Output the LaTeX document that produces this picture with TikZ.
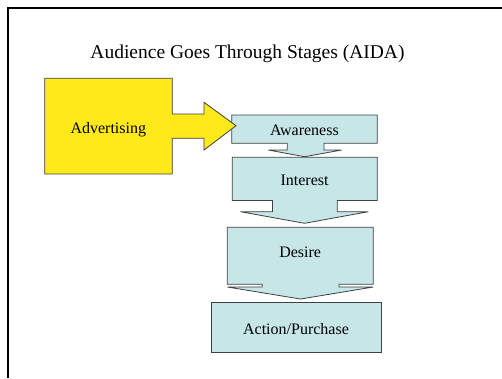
\documentclass[tikz,border=0pt]{standalone}
\usepackage{fontspec}
\setmainfont{Liberation Serif}
\begin{document}
\begin{tikzpicture}[x=1pt,y=-1pt,
  stage/.style={draw=black!75,line width=0.8pt,fill=stagefill,line join=miter},
  adbox/.style={draw=black!75,line width=0.8pt,fill=adfill,line join=miter},
  label/.style={inner sep=0pt,anchor=base,font=\fontsize{16}{18}\selectfont},
  frameline/.style={line width=2pt,black}]
\definecolor{stagefill}{HTML}{C6E6E8}
\definecolor{adfill}{HTML}{FFE91A}
\useasboundingbox (0,0) rectangle (502,378);
\fill[white] (0,0) rectangle (502,378);
% page frame: top and left edges
\draw[frameline] (8,378) -- (8,8) -- (502,8);
% title
\node[inner sep=0pt,anchor=base,font=\fontsize{19.5}{22}\selectfont] (title) at (247.5,58.5) {Audience Goes Through Stages (AIDA)};
% stage block arrows
\draw[stage] (231.7,115) -- (377.3,115) -- (377.3,143.3) -- (324,143.3) -- (324,150)
  -- (341.7,150) -- (304.5,156.7) -- (268.3,150) -- (287.3,150) -- (287.3,143.3)
  -- (231.7,143.3) -- cycle;
\draw[stage] (232.3,157.3) -- (377.3,157.3) -- (377.3,200.5) -- (337.3,200.5) -- (337.3,211.7)
  -- (368.3,211.7) -- (304.5,223.3) -- (240.5,211.7) -- (272.5,211.7) -- (272.5,200.5)
  -- (232.3,200.5) -- cycle;
\draw[stage] (227.3,227.3) -- (373.3,227.3) -- (373.3,284.3) -- (339,284.3) -- (339,287)
  -- (373.3,287) -- (300.5,299) -- (227.3,287) -- (262.3,287) -- (262.3,284.3)
  -- (227.3,284.3) -- cycle;
\draw[stage] (211,302.7) rectangle (381.7,352.7);
% advertising block arrow pointing at the first stage
\draw[adbox] (44.7,78.3) -- (172.3,78.3) -- (172.3,114) -- (204,114) -- (204,102.3)
  -- (236,125.7) -- (204,150) -- (204,138.3) -- (172.3,138.3) -- (172.3,174)
  -- (44.7,174) -- cycle;
% labels
\node[label] (adv) at (108.3,133.3) {Advertising};
\node[label] (awa) at (304.4,135.7) {Awareness};
\node[label] (int) at (304.6,185.7) {Interest};
\node[label] (des) at (300.2,257.7) {Desire};
\node[label] (act) at (296,334.3) {Action/Purchase};
\end{tikzpicture}
\end{document}
